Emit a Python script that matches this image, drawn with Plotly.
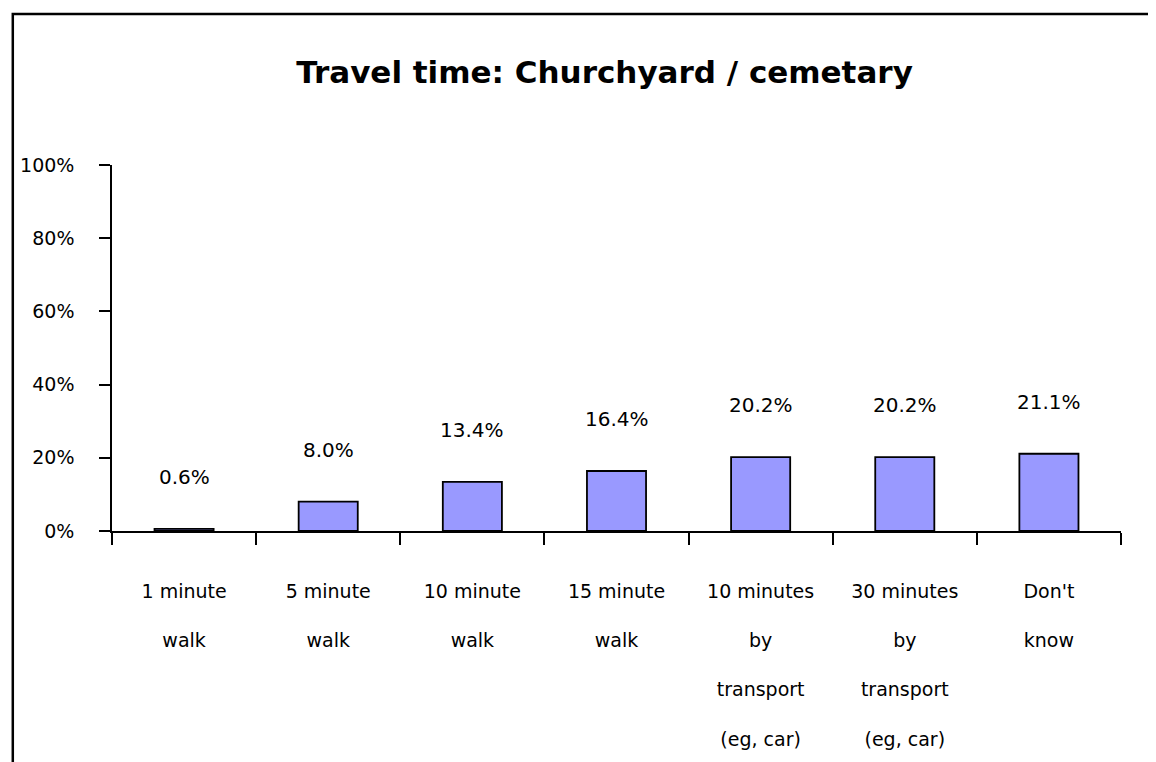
import plotly.graph_objects as go

# ---- data ----
categories = ["1 minute walk", "5 minute walk", "10 minute walk", "15 minute walk",
              "10 minutes by transport (eg, car)", "30 minutes by transport (eg, car)",
              "Don't know"]
tick_lines = [["1 minute", "walk"], ["5 minute", "walk"], ["10 minute", "walk"],
              ["15 minute", "walk"], ["10 minutes", "by", "transport", "(eg, car)"],
              ["30 minutes", "by", "transport", "(eg, car)"], ["Don't", "know"]]
values = [0.6, 8.0, 13.4, 16.4, 20.2, 20.2, 21.1]
y_ticks = [0, 20, 40, 60, 80, 100]
title_text = "Travel time: Churchyard / cemetary"

FONT = "DejaVu Sans"
ticktext = ["<br><br>".join(lines) for lines in tick_lines]

# page offset from default body margin
OFF = 8
W, H = 1156 - OFF, 762 - OFF
# plot area in page pixels
L, R, T, B = 109, 1121, 165, 533

def px_to_paper_x(px):
    return (px - L) / (R - L)

def px_to_paper_y(py):
    return (B - py) / (B - T)

fig = go.Figure()
fig.add_trace(go.Bar(
    x=categories, y=values,
    marker=dict(color="#9999FF", line=dict(color="black", width=1.8)),
    hoverinfo="skip",
))

for c, v in zip(categories, values):
    fig.add_annotation(x=c, y=v, text=f"{v:.1f}%", showarrow=False,
                       yanchor="middle", yshift=52,
                       font=dict(family=FONT, size=20, color="black"))

# frame around chart area (right and bottom edges fall outside the page)
fig.add_shape(type="rect", xref="paper", yref="paper",
              x0=px_to_paper_x(9.5), x1=px_to_paper_x(1220),
              y0=px_to_paper_y(820), y1=px_to_paper_y(13.2),
              line=dict(color="black", width=2.5), fillcolor="rgba(0,0,0,0)",
              layer="above")

fig.update_layout(
    width=W, height=H,
    margin=dict(l=L - OFF, r=W - (R - OFF), t=T - OFF, b=H - (B - OFF), pad=0),
    paper_bgcolor="white", plot_bgcolor="white",
    showlegend=False,
    bargap=0.59,
    title=dict(text=f"<b>{title_text}</b>", x=px_to_paper_x(603), xref="paper",
               xanchor="center", y=1 - (72 - OFF) / H, yref="container", yanchor="middle",
               font=dict(family=FONT, size=31, color="black")),
    font=dict(family=FONT, color="black"),
)

fig.update_xaxes(
    type="category", tickmode="array", tickvals=categories, ticktext=ticktext,
    tickson="boundaries", ticks="outside", ticklen=12, tickwidth=1.5, tickcolor="black",
    showline=True, linecolor="black", linewidth=1.5, showgrid=False,
    tickfont=dict(family=FONT, size=19, color="black"),
    ticklabelstandoff=42,
)
fig.update_yaxes(
    range=[0, 100], tickmode="array", tickvals=y_ticks,
    ticktext=[f"{t}%" for t in y_ticks],
    ticks="outside", ticklen=11, tickwidth=1.5, tickcolor="black",
    showline=True, linecolor="black", linewidth=1.5, showgrid=False, zeroline=False,
    tickfont=dict(family=FONT, size=19, color="black"),
    ticklabelstandoff=21,
)

fig.write_html("out.html")
